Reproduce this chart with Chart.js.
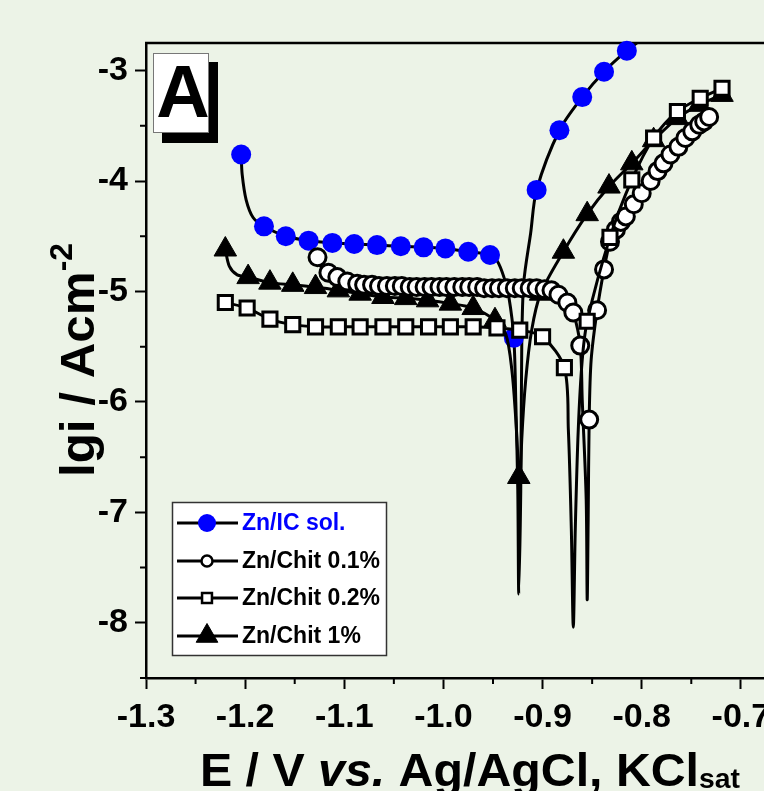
<!DOCTYPE html>
<html>
<head>
<meta charset="utf-8">
<script src="https://cdn.jsdelivr.net/npm/chart.js@4.4.1/dist/chart.umd.min.js"></script>
<style>
  html, body { margin: 0; padding: 0; background: #ecf3e7; overflow: hidden; }
  #wrap { position: relative; width: 860px; height: 791px; }
</style>
</head>
<body>
<div id="wrap"><canvas id="tafel"></canvas></div>
<script>
/* ── Ejes ───────────────────────────────────── */
const xTicks = [-1.3, -1.2, -1.1, -1.0, -0.9, -0.8, -0.7];
const xMinor = [-1.25, -1.15, -1.05, -0.95, -0.85, -0.75, -0.65];
const yTicks = [-8, -7, -6, -5, -4, -3];
const yMinor = [-8.5, -7.5, -6.5, -5.5, -4.5, -3.5];

const seriesNames = ['Zn/IC sol.', 'Zn/Chit 0.1%', 'Zn/Chit 0.2%', 'Zn/Chit 1%'];

/* ── Zn/IC sol. ─────────────────────────────── */
const icE  = [-1.204,-1.181,-1.159,-1.136,-1.112,-1.090,-1.067,-1.043,-1.020,-0.998,-0.975,-0.953,-0.929,-0.906,-0.883,-0.860,-0.838,-0.815];
const icLg = [-3.76,-4.41,-4.50,-4.54,-4.56,-4.57,-4.58,-4.59,-4.60,-4.61,-4.64,-4.67,-5.42,-4.08,-3.54,-3.24,-3.01,-2.82];
const icCurveE  = [-1.204,-1.203,-1.199,-1.192,-1.181,-1.159,-1.136,-1.112,-1.090,-1.067,-1.043,-1.020,-0.998,-0.975,-0.953,-0.946,-0.939,-0.934,-0.929,-0.927,-0.925,-0.924,-0.922,-0.921,-0.919,-0.912,-0.906,-0.883,-0.860,-0.838,-0.815,-0.796];
const icCurveLg = [-3.76,-3.94,-4.17,-4.33,-4.41,-4.50,-4.54,-4.56,-4.57,-4.58,-4.59,-4.60,-4.61,-4.64,-4.67,-4.72,-4.87,-5.05,-5.42,-6.00,-6.80,-7.74,-6.80,-5.50,-4.92,-4.47,-4.08,-3.54,-3.24,-3.01,-2.82,-2.69];

/* ── Zn/Chit 0.1% ───────────────────────────── */
const c01E  = [-1.127,-1.116,-1.107,-1.097,-1.087,-1.080,-1.072,-1.065,-1.057,-1.049,-1.042,-1.034,-1.027,-1.019,-1.012,-1.004,-0.997,-0.989,-0.981,-0.974,-0.966,-0.959,-0.951,-0.944,-0.936,-0.928,-0.921,-0.913,-0.906,-0.898,-0.891,-0.884,-0.875,-0.869,-0.862,-0.853,-0.845,-0.838,-0.832,-0.826,-0.821,-0.816,-0.808,-0.800,-0.791,-0.784,-0.778,-0.771,-0.763,-0.756,-0.749,-0.742,-0.737,-0.732];
const c01Lg = [-4.69,-4.83,-4.87,-4.91,-4.93,-4.94,-4.94,-4.95,-4.95,-4.95,-4.95,-4.96,-4.96,-4.96,-4.96,-4.96,-4.96,-4.96,-4.96,-4.96,-4.96,-4.97,-4.97,-4.97,-4.97,-4.97,-4.97,-4.97,-4.97,-4.98,-4.99,-5.03,-5.10,-5.19,-5.49,-6.16,-5.17,-4.80,-4.55,-4.44,-4.37,-4.32,-4.21,-4.11,-4.00,-3.91,-3.84,-3.76,-3.69,-3.61,-3.55,-3.49,-3.46,-3.42];
const c01CurveE  = [-1.127,-1.124,-1.116,-1.107,-1.097,-1.087,-1.080,-1.072,-1.065,-1.057,-1.049,-1.042,-1.034,-1.027,-1.019,-1.012,-1.004,-0.997,-0.989,-0.981,-0.974,-0.966,-0.959,-0.951,-0.944,-0.936,-0.928,-0.921,-0.913,-0.906,-0.898,-0.891,-0.884,-0.875,-0.869,-0.862,-0.860,-0.856,-0.855,-0.854,-0.853,-0.851,-0.845,-0.838,-0.832,-0.826,-0.821,-0.816,-0.808,-0.800,-0.791,-0.784,-0.778,-0.771,-0.763,-0.756,-0.749,-0.742,-0.737,-0.732];
const c01CurveLg = [-4.69,-4.77,-4.83,-4.87,-4.91,-4.93,-4.94,-4.94,-4.95,-4.95,-4.95,-4.95,-4.96,-4.96,-4.96,-4.96,-4.96,-4.96,-4.96,-4.96,-4.96,-4.96,-4.97,-4.97,-4.97,-4.97,-4.97,-4.97,-4.97,-4.97,-4.98,-4.99,-5.03,-5.10,-5.19,-5.49,-5.98,-6.88,-7.79,-7.06,-6.16,-5.62,-5.17,-4.80,-4.55,-4.44,-4.37,-4.32,-4.21,-4.11,-4.00,-3.91,-3.84,-3.76,-3.69,-3.61,-3.55,-3.49,-3.46,-3.42];

/* ── Zn/Chit 0.2% ───────────────────────────── */
const c02E  = [-1.220,-1.198,-1.175,-1.152,-1.129,-1.106,-1.084,-1.061,-1.038,-1.015,-0.993,-0.970,-0.946,-0.923,-0.900,-0.878,-0.855,-0.832,-0.810,-0.788,-0.764,-0.741,-0.719];
const c02Lg = [-5.10,-5.15,-5.25,-5.30,-5.32,-5.32,-5.32,-5.32,-5.32,-5.32,-5.32,-5.32,-5.33,-5.35,-5.41,-5.69,-5.27,-4.51,-3.99,-3.61,-3.37,-3.25,-3.16];
const c02CurveE  = [-1.220,-1.198,-1.175,-1.152,-1.129,-1.106,-1.084,-1.061,-1.038,-1.015,-0.993,-0.970,-0.946,-0.923,-0.900,-0.878,-0.874,-0.871,-0.869,-0.867,-0.864,-0.860,-0.855,-0.832,-0.810,-0.788,-0.764,-0.741,-0.719];
const c02CurveLg = [-5.10,-5.15,-5.25,-5.30,-5.32,-5.32,-5.32,-5.32,-5.32,-5.32,-5.32,-5.32,-5.33,-5.35,-5.41,-5.69,-6.25,-7.15,-8.04,-7.15,-6.25,-5.62,-5.27,-4.51,-3.99,-3.61,-3.37,-3.25,-3.16];

/* ── Zn/Chit 1% ─────────────────────────────── */
const c1E  = [-1.220,-1.197,-1.175,-1.152,-1.129,-1.106,-1.084,-1.061,-1.038,-1.016,-0.993,-0.970,-0.948,-0.924,-0.902,-0.879,-0.855,-0.833,-0.810,-0.788,-0.764,-0.742,-0.719];
const c1Lg = [-4.62,-4.87,-4.92,-4.94,-4.96,-4.99,-5.02,-5.05,-5.06,-5.08,-5.11,-5.15,-5.26,-6.68,-5.02,-4.64,-4.30,-4.05,-3.84,-3.63,-3.43,-3.31,-3.22];
const c1CurveE  = [-1.220,-1.216,-1.208,-1.197,-1.175,-1.152,-1.129,-1.106,-1.084,-1.061,-1.038,-1.016,-0.993,-0.970,-0.948,-0.937,-0.931,-0.927,-0.924,-0.923,-0.921,-0.917,-0.911,-0.902,-0.879,-0.855,-0.833,-0.810,-0.788,-0.764,-0.742,-0.719];
const c1CurveLg = [-4.62,-4.77,-4.85,-4.87,-4.92,-4.94,-4.96,-4.99,-5.02,-5.05,-5.06,-5.08,-5.11,-5.15,-5.26,-5.39,-5.71,-6.16,-6.68,-6.88,-6.34,-5.80,-5.35,-5.02,-4.64,-4.30,-4.05,-3.84,-3.63,-3.43,-3.31,-3.22];

/* ── Estilos ────────────────────────────────── */
const FONT = "'Liberation Sans', Arial, sans-serif";
Chart.defaults.font.family = FONT;
Chart.defaults.color = '#000';

const symbols = [
  { style: 'circle',   r: 10,  fill: '#0000ff', stroke: '#0000ff', bw: 0 },
  { style: 'circle',   r: 8.5, fill: '#ffffff', stroke: '#000000', bw: 3 },
  { style: 'rect',     r: 10,  fill: '#ffffff', stroke: '#000000', bw: 3 },
  { style: 'triangle', r: 13,  fill: '#000000', stroke: '#000000', bw: 1 }
];
const legendSymbols = [
  { style: 'circle',   r: 9,   fill: '#0000ff', stroke: '#0000ff', bw: 0 },
  { style: 'circle',   r: 5.5, fill: '#ffffff', stroke: '#000000', bw: 2.5 },
  { style: 'rect',     r: 7,   fill: '#ffffff', stroke: '#000000', bw: 2.5 },
  { style: 'triangle', r: 12.5,fill: '#000000', stroke: '#000000', bw: 1 }
];

const pts = (xs, ys) => xs.map((x, i) => ({ x, y: ys[i] }));

function curve(xs, ys, order) {
  return {
    data: pts(xs, ys), showLine: true, pointRadius: 0,
    borderColor: '#000', borderWidth: 3, tension: 0.3, fill: false, order
  };
}
function marks(xs, ys, s, order) {
  return {
    data: pts(xs, ys), showLine: false, clip: 12,
    pointStyle: s.style, pointRadius: s.r,
    pointBackgroundColor: s.fill, pointBorderColor: s.stroke, pointBorderWidth: s.bw,
    order
  };
}

/* ── Dibujo de marco, títulos, "A" y leyenda ── */
function drawRich(ctx, parts, x, y, width) {
  let total = 0;
  parts.forEach(p => { ctx.font = p.f; total += ctx.measureText(p.t).width; });
  ctx.save();
  ctx.translate(x, y);
  ctx.scale(width / total, 1);
  let cx = 0;
  parts.forEach(p => {
    ctx.font = p.f;
    ctx.fillText(p.t, cx, p.dy || 0);
    cx += ctx.measureText(p.t).width;
  });
  ctx.restore();
}

function symbol(ctx, s, x, y) {
  ctx.beginPath();
  if (s.style === 'circle') {
    ctx.arc(x, y, s.r, 0, Math.PI * 2);
  } else if (s.style === 'rect') {
    const h = s.r / Math.SQRT2;
    ctx.rect(x - h, y - h, 2 * h, 2 * h);
  } else {
    ctx.moveTo(x, y - s.r);
    ctx.lineTo(x + s.r * Math.sin(Math.PI / 3), y + s.r / 2);
    ctx.lineTo(x - s.r * Math.sin(Math.PI / 3), y + s.r / 2);
    ctx.closePath();
  }
  ctx.fillStyle = s.fill; ctx.fill();
  if (s.bw) { ctx.lineWidth = s.bw; ctx.strokeStyle = s.stroke; ctx.stroke(); }
}

const framePlugin = {
  id: 'frame',
  beforeDatasetsDraw(chart) {
    const { ctx, chartArea: ca, scales: { x, y } } = chart;
    ctx.save();
    ctx.strokeStyle = '#000';
    ctx.lineWidth = 2.5;
    ctx.beginPath();
    ctx.moveTo(ca.left - 1, ca.top); ctx.lineTo(ca.right, ca.top);
    ctx.stroke();
    ctx.lineWidth = 2;
    ctx.beginPath();
    xMinor.forEach(v => { const p = x.getPixelForValue(v); ctx.moveTo(p, ca.bottom); ctx.lineTo(p, ca.bottom + 6); });
    yMinor.forEach(v => { const p = y.getPixelForValue(v); ctx.moveTo(ca.left, p); ctx.lineTo(ca.left - 6, p); });
    ctx.stroke();
    ctx.restore();
  },
  afterDraw(chart) {
    const { ctx } = chart;
    ctx.save();
    ctx.fillStyle = '#000';
    ctx.textBaseline = 'alphabetic';

    // título eje X
    drawRich(ctx, [
      { t: 'E / V ', f: `bold 46px ${FONT}` },
      { t: 'vs.', f: `italic bold 46px ${FONT}` },
      { t: ' Ag/AgCl, KCl', f: `bold 46px ${FONT}` },
      { t: 'sat', f: `bold 27px ${FONT}`, dy: 2 }
    ], 200, 786, 540);

    // título eje Y
    ctx.save();
    ctx.translate(94, 477);
    ctx.rotate(-Math.PI / 2);
    drawRich(ctx, [
      { t: 'lgi / Acm', f: `bold 48px ${FONT}` },
      { t: '-2', f: `bold 31px ${FONT}`, dy: -22 }
    ], 0, 0, 234);
    ctx.restore();

    // recuadro "A"
    ctx.fillStyle = '#000';
    ctx.fillRect(162, 62, 56, 81);
    ctx.fillStyle = '#fff';
    ctx.fillRect(153, 53, 56, 80);
    ctx.strokeStyle = '#777';
    ctx.lineWidth = 1;
    ctx.strokeRect(153.5, 53.5, 55, 79);
    ctx.fillStyle = '#000';
    ctx.font = `bold 74px ${FONT}`;
    ctx.textAlign = 'center';
    ctx.fillText('A', 183, 117);

    // leyenda
    ctx.fillStyle = '#fff';
    ctx.fillRect(172, 502, 215, 154);
    ctx.strokeStyle = '#333';
    ctx.lineWidth = 1.5;
    ctx.strokeRect(172.5, 502.5, 214, 153);
    const rows = [523, 561, 598, 636];
    ctx.textAlign = 'left';
    ctx.textBaseline = 'middle';
    ctx.font = `bold 23px ${FONT}`;
    seriesNames.forEach((name, i) => {
      const ry = rows[i];
      ctx.strokeStyle = '#000';
      ctx.lineWidth = 3;
      ctx.beginPath(); ctx.moveTo(177, ry); ctx.lineTo(238, ry); ctx.stroke();
      symbol(ctx, legendSymbols[i], 207, ry);
      ctx.fillStyle = i === 0 ? '#0000ff' : '#000';
      ctx.fillText(name, 242, ry + 1);
    });
    ctx.restore();
  }
};

/* ── Gráfica ────────────────────────────────── */
const tickFont = { size: 34, weight: 'bold', family: FONT };

new Chart(document.getElementById('tafel'), {
  type: 'scatter',
  data: {
    datasets: [
      curve(icCurveE, icCurveLg, 8),
      marks(icE, icLg, symbols[0], 7),
      curve(c1CurveE, c1CurveLg, 6),
      marks(c1E, c1Lg, symbols[3], 5),
      curve(c01CurveE, c01CurveLg, 4),
      marks(c01E, c01Lg, symbols[1], 3),
      curve(c02CurveE, c02CurveLg, 2),
      marks(c02E, c02Lg, symbols[2], 1)
    ]
  },
  options: {
    responsive: true,
    maintainAspectRatio: false,
    animation: false,
    events: [],
    layout: { padding: { left: 0, top: 43, right: 20, bottom: 0 } },
    plugins: { legend: { display: false }, tooltip: { enabled: false } },
    scales: {
      x: {
        type: 'linear', min: -1.3, max: -0.6,
        afterBuildTicks: s => { s.ticks = xTicks.map(v => ({ value: v })); },
        afterFit: s => { s.height = 113; },
        ticks: { font: tickFont, color: '#000', padding: 8, maxRotation: 0, autoSkip: false,
                 callback: v => v.toFixed(1) },
        grid: { drawOnChartArea: false, drawTicks: true, tickLength: 11, tickWidth: 2, tickColor: '#000' },
        border: { display: true, color: '#000', width: 2.5 }
      },
      y: {
        type: 'linear', min: -8.5, max: -2.75,
        afterBuildTicks: s => { s.ticks = yTicks.map(v => ({ value: v })); },
        afterFit: s => { s.width = 146; },
        ticks: { font: tickFont, color: '#000', padding: 7, autoSkip: false,
                 callback: v => String(v) },
        grid: { drawOnChartArea: false, drawTicks: true, tickLength: 11, tickWidth: 2, tickColor: '#000' },
        border: { display: true, color: '#000', width: 2.5 }
      }
    }
  },
  plugins: [framePlugin]
});
</script>
</body>
</html>
